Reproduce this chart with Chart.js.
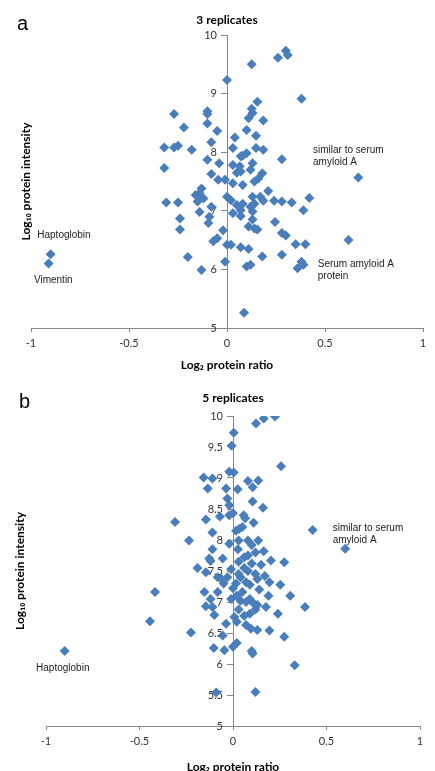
<!DOCTYPE html>
<html>
<head>
<meta charset="utf-8">
<script src="https://cdn.jsdelivr.net/npm/chart.js@4.4.1/dist/chart.umd.min.js"></script>
<style>
  html, body { margin: 0; padding: 0; width: 435px; height: 771px; overflow: hidden; background: #fff; }
  canvas { position: absolute; left: 0; }
  #scatterA { top: 0; }
  #scatterB { top: 385px; }
  .panel { position: absolute; font: 20px "Liberation Sans", Arial, sans-serif; line-height: 20px; color: #000; }
</style>
</head>
<body>
<canvas id="scatterA" width="435" height="385"></canvas>
<canvas id="scatterB" width="435" height="400"></canvas>
<div class="panel" style="left:17px;top:13px">a</div>
<div class="panel" style="left:19px;top:391px">b</div>
<script>
// panel a : 3 replicates (log2 ratio vs log10 intensity)
const ratioA = [
  0.00, 0.126, 0.26, 0.30, 0.31, 0.38, 0.155, 0.126, 0.13, 0.11,
  0.185, -0.10, -0.10, -0.27, -0.22, -0.10, -0.05, 0.10, 0.148, 0.04,
  -0.08, -0.32, -0.27, -0.25, -0.18, 0.03, 0.10, 0.08, 0.07, 0.148,
  0.185, 0.28, -0.10, -0.04, -0.32, 0.03, 0.065, 0.13, 0.07, 0.05,
  0.12, 0.18, -0.08, 0.67, -0.045, -0.01, 0.14, 0.16, 0.03, 0.08,
  -0.13, -0.16, -0.14, -0.12, -0.15, -0.31, -0.25, -0.14, -0.08, 0.00,
  0.02, 0.05, 0.08, 0.07, 0.12, 0.13, 0.13, 0.14, 0.21, 0.185,
  0.24, 0.28, 0.33, 0.42, 0.39, -0.24, -0.24, -0.09, -0.095, 0.03,
  0.07, 0.11, 0.13, 0.14, 0.155, -0.02, 0.245, 0.28, 0.30, -0.05,
  -0.07, 0.00, 0.02, 0.07, 0.11, 0.35, 0.40, -0.20, -0.01, 0.12,
  0.10, 0.18, 0.28, 0.36, 0.39, -0.13, 0.087, 0.62, -0.90, -0.91,
  0.17, 0.38
];
const intensityA = [
  9.23, 9.50, 9.61, 9.73, 9.66, 8.91, 8.86, 8.74, 8.67, 8.58,
  8.54, 8.70, 8.65, 8.65, 8.42, 8.49, 8.36, 8.38, 8.28, 8.25,
  8.17, 8.08, 8.08, 8.11, 8.04, 8.07, 7.98, 7.94, 7.93, 8.07,
  8.04, 7.88, 7.87, 7.81, 7.73, 7.78, 7.76, 7.81, 7.67, 7.65,
  7.70, 7.64, 7.63, 7.57, 7.53, 7.53, 7.50, 7.55, 7.47, 7.44,
  7.38, 7.27, 7.30, 7.21, 7.16, 7.14, 7.14, 6.98, 7.07, 7.24,
  7.18, 7.10, 7.12, 7.01, 7.07, 7.24, 6.99, 7.12, 7.34, 7.17,
  7.17, 7.16, 7.14, 7.22, 7.01, 6.87, 6.68, 6.90, 6.79, 6.96,
  6.91, 6.73, 6.85, 6.70, 6.68, 6.67, 6.81, 6.62, 6.58, 6.53,
  6.48, 6.42, 6.42, 6.38, 6.35, 6.43, 6.43, 6.21, 6.13, 6.08,
  6.05, 6.22, 6.25, 6.02, 6.08, 5.99, 5.26, 6.50, 6.26, 6.10,
  7.24, 6.13
];

// panel b : 5 replicates
const ratioB = [
  0.225, 0.164, 0.123, 0.004, -0.007, 0.257, -0.02, 0.004, -0.157, -0.11,
  0.08, 0.135, 0.105, -0.135, -0.037, 0.025, -0.03, 0.105, -0.02, 0.16,
  0.00, -0.02, -0.31, -0.145, -0.07, 0.057, 0.065, 0.11, 0.034, 0.05,
  0.016, -0.11, -0.235, -0.02, 0.03, 0.08, 0.135, -0.11, 0.426, 0.026,
  0.10, 0.164, 0.60, -0.055, -0.12, -0.19, -0.145, -0.01, 0.03, 0.06,
  0.08, 0.12, 0.203, 0.274, 0.08, 0.12, -0.064, 0.016, 0.07, 0.13,
  0.195, 0.253, -0.153, -0.082, 0.00, 0.05, -0.12, -0.145, -0.01, 0.04,
  0.09, 0.11, 0.13, 0.176, 0.306, 0.385, -0.10, 0.24, 0.007, 0.06,
  0.09, -0.037, 0.02, 0.07, 0.096, 0.13, 0.195, -0.225, -0.055, 0.274,
  -0.103, -0.046, 0.02, 0.00, 0.105, 0.33, -0.09, 0.12, -0.417, -0.444,
  -0.90, 0.10, 0.03, 0.06, 0.10, 0.15, 0.04, 0.09, 0.14, 0.02,
  0.07, 0.12, 0.03, 0.17, 0.19, -0.03, -0.05, -0.082, -0.127, -0.11
];
const intensityB = [
  9.99, 9.96, 9.88, 9.73, 9.52, 9.19, 9.10, 9.09, 9.01, 8.99,
  8.95, 8.96, 8.85, 8.83, 8.83, 8.82, 8.67, 8.62, 8.56, 8.52,
  8.43, 8.40, 8.29, 8.33, 8.38, 8.40, 8.35, 8.28, 8.18, 8.21,
  8.15, 8.12, 7.99, 7.94, 7.99, 7.99, 7.99, 7.85, 8.16, 7.85,
  7.92, 7.82, 7.86, 7.70, 7.66, 7.55, 7.48, 7.53, 7.45, 7.72,
  7.75, 7.80, 7.67, 7.64, 7.50, 7.45, 7.38, 7.30, 7.32, 7.37,
  7.32, 7.28, 7.16, 7.16, 7.22, 7.16, 7.05, 6.93, 7.05, 7.02,
  7.05, 6.98, 6.95, 6.92, 7.10, 6.92, 6.79, 6.81, 6.76, 6.78,
  6.81, 6.65, 6.68, 6.63, 6.57, 6.55, 6.54, 6.51, 6.46, 6.44,
  6.26, 6.22, 6.34, 6.28, 6.17, 5.98, 5.54, 5.55, 7.16, 6.69,
  6.21, 6.21, 7.65, 7.55, 7.62, 7.60, 7.40, 7.28, 7.20, 7.10,
  7.00, 6.88, 6.88, 7.42, 7.10, 7.40, 7.30, 7.40, 7.70, 6.92
];

// text labels next to points, anchored in data units
const notesA = [
  { x: 0.439, y: 8.03, text: ['similar to serum', 'amyloid A'] },
  { x: 0.463, y: 6.08, text: ['Serum amyloid A', 'protein'] },
  { x: -0.968, y: 6.575, text: ['Haptoglobin'] },
  { x: -0.985, y: 5.82, text: ['Vimentin'] }
];
const notesB = [
  { x: 0.533, y: 8.19, text: ['similar to serum', 'amyloid A'] },
  { x: -1.053, y: 5.93, text: ['Haptoglobin'] }
];

const BLUE = '#4a7ebb';
const AXIS = '#868686';
const TICK_FONT = { family: 'Lato, "Open Sans", sans-serif', size: 11 };
const BOLD_FONT = { family: 'Lato, "Open Sans", sans-serif', size: 12, weight: 'bold' };

const notePlugin = {
  id: 'notes',
  afterDatasetsDraw(chart, args, opts) {
    const { ctx, scales: { x, y } } = chart;
    ctx.save();
    ctx.font = '10px "Liberation Sans", Arial, sans-serif';
    ctx.fillStyle = '#222';
    ctx.textBaseline = 'middle';
    ctx.textAlign = 'left';
    opts.items.forEach(n => {
      n.text.forEach((line, i) => {
        ctx.fillText(line, x.getPixelForValue(n.x), y.getPixelForValue(n.y) + i * 12);
      });
    });
    ctx.restore();
  }
};

function scatter(id, title, ratios, intensities, yStep, notes, box) {
  return new Chart(document.getElementById(id), {
    type: 'scatter',
    data: {
      datasets: [{
        data: ratios.map((r, i) => ({ x: r, y: intensities[i] })),
        pointStyle: 'rectRot',
        pointRadius: 5,
        backgroundColor: BLUE,
        borderColor: BLUE,
        borderWidth: 0
      }]
    },
    options: {
      responsive: false,
      animation: false,
      events: [],
      layout: { padding: box.padding },
      plugins: {
        legend: { display: false },
        tooltip: { enabled: false },
        title: {
          display: true,
          text: title,
          fullSize: false,
          color: '#000',
          font: BOLD_FONT,
          padding: box.titlePad
        },
        notes: { items: notes }
      },
      scales: {
        x: {
          type: 'linear',
          min: -1, max: 1,
          ticks: { stepSize: 0.5, color: '#333', font: TICK_FONT, padding: 5, callback: v => v.toString() },
          grid: { drawOnChartArea: false, drawTicks: true, tickLength: 4, color: AXIS },
          border: { display: true, color: AXIS, width: 1 },
          title: { display: true, text: 'Log₂ protein ratio', color: '#000', font: BOLD_FONT, padding: 0 },
          afterFit: s => { s.height = box.xHeight; }
        },
        // x runs -1..1, so the centre of the plot is x = 0
        y: {
          type: 'linear',
          position: 'center',
          min: 5, max: 10,
          ticks: { stepSize: yStep, color: '#333', font: TICK_FONT, padding: 4, callback: v => v.toString() },
          grid: { drawOnChartArea: false, drawTicks: true, tickLength: 6, color: AXIS },
          border: { display: true, color: AXIS, width: 1 }
        },
        yTitle: {
          type: 'linear',
          position: 'left',
          min: 5, max: 10,
          ticks: { display: false },
          grid: { display: false, drawTicks: false },
          border: { display: false },
          title: { display: true, text: 'Log₁₀ protein intensity', color: '#000', font: BOLD_FONT, padding: 0 },
          afterFit: s => { s.width = box.yWidth; }
        }
      }
    },
    plugins: [notePlugin]
  });
}

scatter('scatterA', '3 replicates', ratioA, intensityA, 1, notesA, {
  padding: { left: 19, right: 12, top: 0, bottom: 12.8 },
  titlePad: { top: 12.8, bottom: 7.8 },
  xHeight: 44.2,
  yWidth: 12
});

scatter('scatterB', '5 replicates', ratioB, intensityB, 0.5, notesB, {
  padding: { left: 13, right: 15, top: 0, bottom: 11.1 },
  titlePad: { top: 6.1, bottom: 10.5 },
  xHeight: 47.9,
  yWidth: 33
});
</script>
</body>
</html>
